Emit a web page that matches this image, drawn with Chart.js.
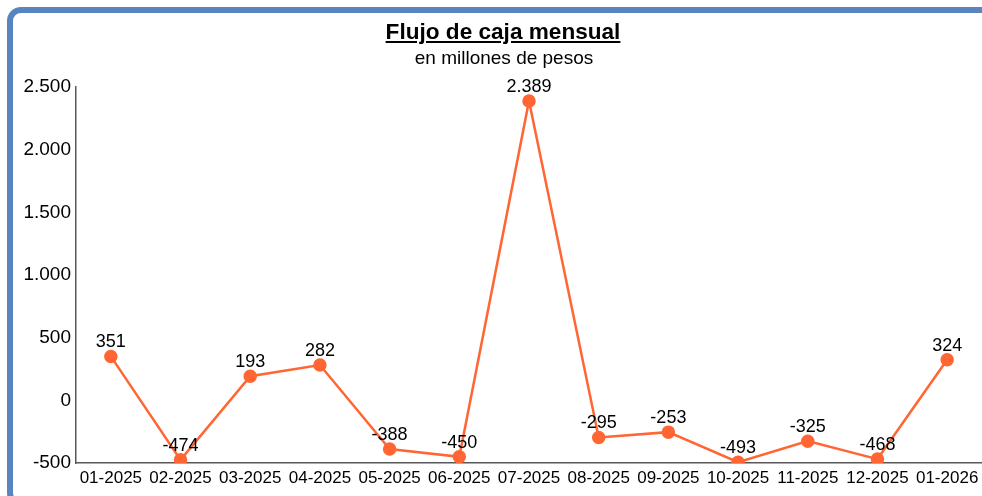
<!DOCTYPE html>
<html>
<head>
<meta charset="utf-8">
<script src="https://cdn.jsdelivr.net/npm/chart.js@4.4.1/dist/chart.umd.min.js"></script>
<style>
  html, body { margin: 0; padding: 0; background: #fff; }
  #wrap { position: relative; width: 982px; height: 496px; overflow: hidden; font-family: "Liberation Sans", Arial, sans-serif; }
  #marco { position: absolute; left: 7px; top: 7px; width: 990px; height: 500px; border: 6px solid #5A84BF; border-radius: 14px; box-sizing: border-box; pointer-events: none; z-index: 2; }
  #titulo { position: absolute; left: 0; width: 1006px; top: 19px; text-align: center; font-size: 22.6px; font-weight: bold; text-decoration: underline; color: #000; }
  #subtitulo { position: absolute; left: 0; width: 1008px; top: 47px; text-align: center; font-size: 19px; color: #000; }
  #grafico { position: absolute; left: 0; top: 0; }
</style>
</head>
<body>
<div id="wrap">
  <canvas id="grafico" width="982" height="496"></canvas>
  <div id="titulo">Flujo de caja mensual</div>
  <div id="subtitulo">en millones de pesos</div>
  <div id="marco"></div>
</div>
<script>
// Datos del gráfico
const meses = ['01-2025', '02-2025', '03-2025', '04-2025', '05-2025', '06-2025', '07-2025',
               '08-2025', '09-2025', '10-2025', '11-2025', '12-2025', '01-2026'];
const flujo = [351, -474, 193, 282, -388, -450, 2389, -295, -253, -493, -325, -468, 324];
const ejeY = [-500, 0, 500, 1000, 1500, 2000, 2500];

// separador de miles con punto
function formato(n) {
  return String(n).replace(/\B(?=(\d{3})+(?!\d))/g, '.');
}

// etiquetas encima de cada punto
const etiquetas = {
  id: 'etiquetas',
  afterDatasetsDraw(chart) {
    const ctx = chart.ctx;
    const meta = chart.getDatasetMeta(0);
    ctx.save();
    ctx.font = '18px "Liberation Sans", Arial, sans-serif';
    ctx.fillStyle = '#000';
    ctx.textAlign = 'center';
    ctx.textBaseline = 'bottom';
    meta.data.forEach((p, i) => {
      ctx.fillText(formato(flujo[i]), p.x, p.y - 5);
    });
    ctx.restore();
  }
};

const ctx = document.getElementById('grafico').getContext('2d');
const myChart = new Chart(ctx, {
  type: 'line',
  data: {
    labels: meses,
    datasets: [{
      label: 'Flujo',
      data: flujo,
      borderColor: '#FF6633',
      backgroundColor: '#FF6633',
      borderWidth: 2.5,
      pointRadius: 5.5,
      pointHoverRadius: 5.5,
      tension: 0
    }]
  },
  options: {
    responsive: false,
    animation: false,
    events: [],
    layout: { autoPadding: false, padding: { top: 87, right: 0, bottom: 2.5, left: 0 } },
    plugins: {
      legend: { display: false },
      tooltip: { enabled: false }
    },
    scales: {
      x: {
        offset: true,
        afterFit: s => { s.paddingLeft = 0; s.paddingRight = 0; },
        grid: { display: false, drawTicks: false },
        border: { display: true, color: '#595959', width: 1.5 },
        ticks: { color: '#000', font: { size: 17, family: '"Liberation Sans", Arial, sans-serif' }, maxRotation: 0, autoSkip: false, padding: 5 }
      },
      y: {
        min: ejeY[0],
        max: ejeY[ejeY.length - 1],
        afterBuildTicks: s => { s.ticks = ejeY.map(v => ({ value: v })); },
        afterFit: s => { s.width = 76; s.paddingTop = 0; s.paddingBottom = 0; },
        grid: { display: false, drawTicks: false },
        border: { display: true, color: '#595959', width: 1.5 },
        ticks: { color: '#000', font: { size: 19, family: '"Liberation Sans", Arial, sans-serif' }, padding: 5, callback: v => formato(v) }
      }
    }
  },
  plugins: [etiquetas]
});
</script>
</body>
</html>
